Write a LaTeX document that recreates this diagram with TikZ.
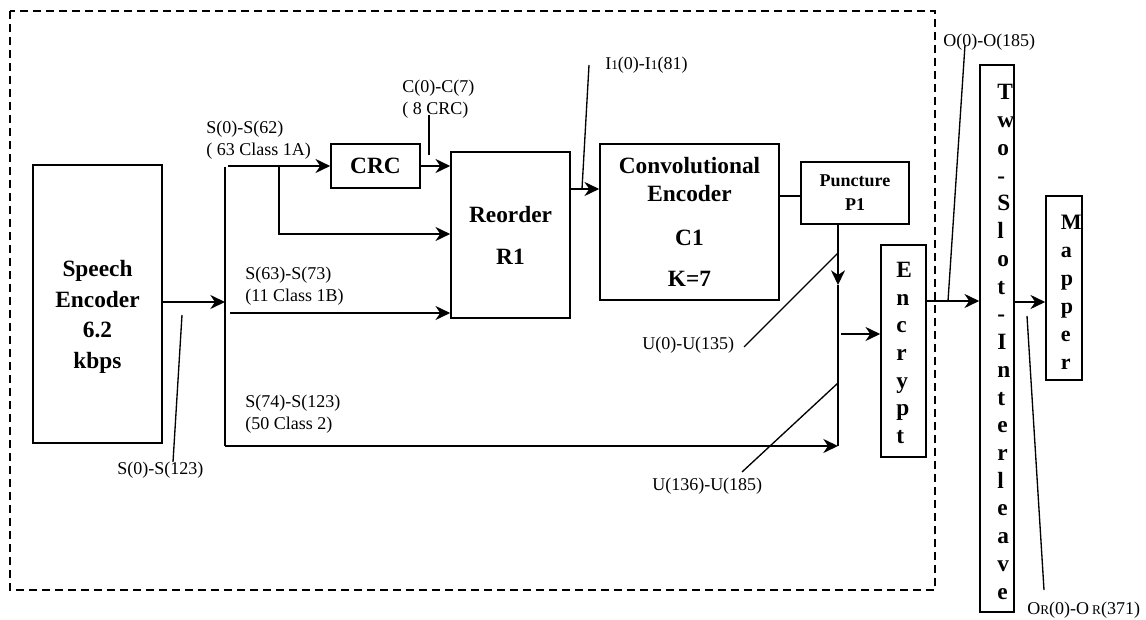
\documentclass[tikz,border=0pt]{standalone}
\usepackage{fontspec}
\setmainfont{Liberation Serif}
\usetikzlibrary{arrows.meta}
\begin{document}
\begin{tikzpicture}[x=0.75pt,y=-0.75pt,
  box/.style={draw, line width=1.2pt, rectangle, inner sep=0pt, align=center},
  bigtxt/.style={font=\fontsize{17.5}{21}\selectfont\bfseries},
  vtxt/.style={font=\fontsize{17.5}{20.8}\selectfont\bfseries, align=left, inner sep=0pt, anchor=west},
  lbl/.style={font=\fontsize{13.5}{16.5}\selectfont, align=left, inner sep=0pt, anchor=west},
  conn/.style={line width=1.5pt},
  arr/.style={conn, -{Stealth[length=11pt,width=10.5pt,inset=3.5pt]}},
  leader/.style={line width=1pt},
  border/.style={line width=1.7pt, dash pattern=on 6pt off 3.75pt}
]
\useasboundingbox (0,0) rectangle (1146,620);
\draw[border] (10,11) rectangle (935,590);

% boxes
\node[box, minimum width=96.75pt, minimum height=208.5pt] (enc) at (97.5,304) {};
\node[font=\fontsize{17.5}{23}\selectfont\bfseries, align=center] (enctxt) at (97.5,317) {Speech\\Encoder\\6.2\\kbps};
\node[box, bigtxt, minimum width=66.75pt, minimum height=33pt] (crc) at (375.5,166) {CRC};
\node[box, bigtxt, minimum width=89.25pt, minimum height=124.5pt, text depth=0pt] (reo) at (510.5,235) {Reorder\\[10.5pt]R1};
\node[box, bigtxt, minimum width=134.25pt, minimum height=117pt] (conv) at (689.5,222) {Convolutional\\Encoder\\[12pt]C1\\[10pt]K=7};
\node[box, font=\fontsize{13.5}{18}\selectfont\bfseries, minimum width=81pt, minimum height=46.5pt] (pun) at (855,193) {Puncture\\P1};
\node[box, minimum width=33.75pt, minimum height=159pt] (encr) at (903.5,351) {};
\node[vtxt] (encrtxt) at (896,353) {E\\n\\c\\r\\y\\p\\t};
\node[box, minimum width=25.5pt, minimum height=410.25pt] (int) at (997,338.5) {};
\node[vtxt] (inttxt) at (997,342) {T\\w\\o\\-\\S\\l\\o\\t\\-\\I\\n\\t\\e\\r\\l\\e\\a\\v\\e};
\node[box, minimum width=27pt, minimum height=138pt] (map) at (1064,288) {};
\node[vtxt, font=\fontsize{16.5}{21}\selectfont\bfseries] (maptxt) at (1060.5,292) {M\\a\\p\\p\\e\\r};

% coordinates
\coordinate (split) at (225,302);
\coordinate (vtop) at (225,167);
\coordinate (vbot) at (225,446);
\coordinate (a1) at (228,166);
\coordinate (b1) at (279,166);
\coordinate (c1b) at (230,313);
\coordinate (pbot) at (838,446);
\coordinate (pmid) at (838,285);
\coordinate (ein) at (841,334);

% connectors
\draw[arr] (enc.east |- split) -- (split);
\draw[conn] (vtop) -- (vbot);
\draw[arr] (a1) -- (crc.west);
\draw[arr] (b1) |- (reo.west |- 0,234);
\draw[arr] (crc.east) -- (reo.west |- crc.east);
\draw[arr] (c1b) -- (reo.west |- c1b);
\draw[arr] (vbot) -- (pbot);
\draw[arr] (reo.east |- 0,189) -- (conv.west |- 0,189);
\draw[conn] (conv.east |- 0,196) -- (pun.west |- 0,196);
\draw[arr] (pbot |- pun.south) -- (pmid);
\draw[conn] (pmid) -- (pbot);
\draw[arr] (ein) -- (encr.west |- ein);
\draw[arr] (encr.east |- 0,301) -- (int.west |- 0,301);
\draw[arr] (int.east |- 0,302) -- (map.west |- 0,302);

% leader lines
\coordinate (cl1) at (429,115); \coordinate (cl2) at (429,155);
\draw[leader] (cl1) -- (cl2);
\coordinate (il1) at (582,189); \coordinate (il2) at (589,65);
\draw[leader] (il1) -- (il2);
\coordinate (ol1) at (948,301); \coordinate (ol2) at (965,45);
\draw[leader] (ol1) -- (ol2);
\coordinate (rl1) at (1027,316); \coordinate (rl2) at (1044,590);
\draw[leader] (rl1) -- (rl2);
\coordinate (sl1) at (182,315); \coordinate (sl2) at (173,462);
\draw[leader] (sl1) -- (sl2);
\coordinate (ul1) at (744,347); \coordinate (ul2) at (838,253);
\draw[leader] (ul1) -- (ul2);
\coordinate (vl1) at (838,383); \coordinate (vl2) at (742,472);
\draw[leader] (vl1) -- (vl2);

% labels
\node[lbl] (l1a) at (206,140) {S(0)-S(62)\\( 63 Class 1A)};
\node[lbl] (l1b) at (245,286) {S(63)-S(73)\\(11 Class 1B)};
\node[lbl] (l2) at (245,414) {S(74)-S(123)\\(50 Class 2)};
\node[lbl] (lcrc) at (402,99) {C(0)-C(7)\\( 8 CRC)};
\node[lbl] (li) at (605,65) {I{\fontsize{10}{10}\selectfont 1}(0)-I{\fontsize{10}{10}\selectfont 1}(81)};
\node[lbl] (lo) at (943,42) {O(0)-O(185)};
\node[lbl] (lor) at (1027,610) {O{\fontsize{10}{10}\selectfont R}(0)-O\,{\fontsize{10}{10}\selectfont R}(371)};
\node[lbl] (ls) at (117,470) {S(0)-S(123)};
\node[lbl] (lu1) at (642,345) {U(0)-U(135)};
\node[lbl] (lu2) at (652,486) {U(136)-U(185)};
\end{tikzpicture}
\end{document}
